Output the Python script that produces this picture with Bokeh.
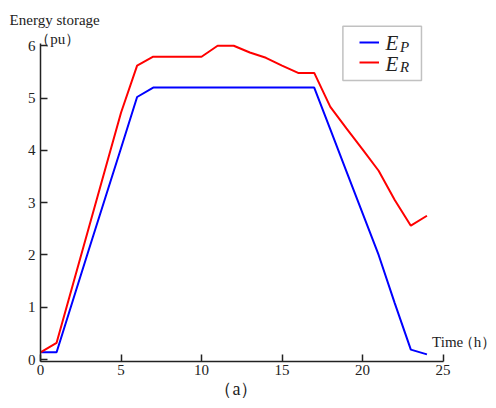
from bokeh.plotting import figure
from bokeh.models import Range1d, Label, Legend, BoxAnnotation
from bokeh.embed import file_html
from bokeh.resources import INLINE

hours = list(range(25))
e_p = [0.14, 0.14, 1.12, 2.10, 3.07, 4.04, 5.02, 5.20, 5.20, 5.20, 5.20, 5.20, 5.20,
       5.20, 5.20, 5.20, 5.20, 5.20, 4.40, 3.60, 2.80, 2.00, 1.08, 0.19, 0.10]
e_r = [0.14, 0.32, 1.42, 2.52, 3.62, 4.72, 5.62, 5.79, 5.79, 5.79, 5.79, 6.00, 6.00,
       5.87, 5.77, 5.62, 5.48, 5.48, 4.83, 4.42, 4.02, 3.61, 3.05, 2.56, 2.75]
x_ticks = [0, 5, 10, 15, 20, 25]
y_ticks = [0, 1, 2, 3, 4, 5, 6]
x_bounds = (0, 25)
y_bounds = (-0.036, 6.043)

FONT = "Liberation Serif"
INK = "#222222"

p = figure(width=496, height=408, output_backend="svg", toolbar_location=None,
           x_range=Range1d(-2.484, 28.32), y_range=Range1d(-0.935, 6.865),
           min_border_left=0, min_border_right=0, min_border_top=0, min_border_bottom=0)
p.grid.visible = False
p.outline_line_color = None

for ax, ticks, bnds in ((p.xaxis, x_ticks, x_bounds), (p.yaxis, y_ticks, y_bounds)):
    ax.ticker = ticks
    ax.bounds = bnds
    ax.major_tick_in = 7
    ax.major_tick_out = 0
    ax.minor_tick_line_color = None
    ax.axis_line_width = 1.5
    ax.axis_line_color = INK
    ax.major_tick_line_width = 1.5
    ax.major_tick_line_color = INK
    ax.major_label_text_font = FONT
    ax.major_label_text_font_size = "15px"
    ax.major_label_text_color = INK
p.xaxis.fixed_location = y_bounds[0]
p.yaxis.fixed_location = x_bounds[0]
p.xaxis.major_label_standoff = 4
p.yaxis.major_label_standoff = 5

rp = p.line(hours, e_p, line_color="#0000ff", line_width=2)
rr = p.line(hours, e_r, line_color="#ff0000", line_width=2)

box = BoxAnnotation(left=18.78, right=23.66, bottom=5.336, top=6.374,
                    fill_color="white", fill_alpha=1.0, line_color="#333333", line_width=1.5)
p.add_layout(box)

legend = Legend(items=[(" ", [rp]), (" ", [rr])], location=(359, 336),
                padding=0, spacing=0, margin=0, glyph_width=20, glyph_height=20,
                label_height=20, label_width=1, label_standoff=0, border_line_color=None,
                background_fill_alpha=0.0, label_text_font=FONT,
                label_text_font_size="8px")
p.add_layout(legend, "center")

def lab(x, y, text, size="15px", align="left", style="normal"):
    p.add_layout(Label(x=x, y=y, text=text, text_font=FONT, text_font_size=size,
                       text_align=align, text_baseline="middle", text_color=INK,
                       text_font_style=style))

lab(21.43, 6.043, "E", size="21px", style="italic")
lab(21.43, 5.66, "E", size="21px", style="italic")
lab(22.32, 5.985, "P", style="italic")
lab(22.32, 5.59, "R", style="italic")
lab(-1.92, 6.5, "Energy storage")
lab(-0.32, 6.12, "（pu）")
lab(24.32, 0.33, "Time")
lab(28.30, 0.33, "（h）", align="right")
lab(12.17, -0.57, "（a）", size="18px", align="center")

open("out.html", "w").write(file_html(p, INLINE))
